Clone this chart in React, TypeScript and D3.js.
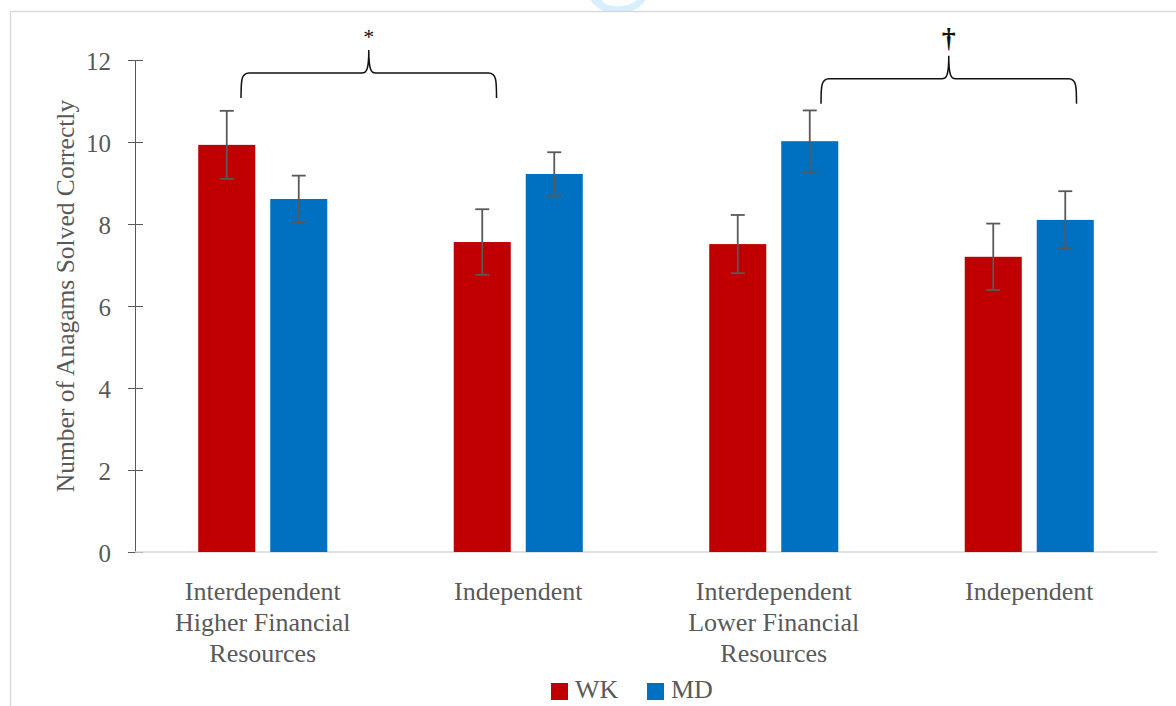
import React, { useEffect, useRef } from "react";
import * as d3 from "d3";

const categories = [
  ["Interdependent", "Higher Financial", "Resources"],
  ["Independent"],
  ["Interdependent", "Lower Financial", "Resources"],
  ["Independent"],
];
const series = ["WK", "MD"];
const colors = ["#C00000", "#0070C0"];
const wkValues = [9.93, 7.56, 7.51, 7.2];
const mdValues = [8.61, 9.22, 10.02, 8.1];
const wkErrors = [0.83, 0.8, 0.71, 0.81];
const mdErrors = [0.57, 0.53, 0.75, 0.7];
const yTicks = [0, 2, 4, 6, 8, 10, 12];
const braceFrom = [0.415, 2.685];
const braceTo = [1.415, 3.685];
const braceLevel = [11.68, 11.54];
const braceMarks = ["*", "†"];

const FONT = "'Liberation Serif', 'Times New Roman', serif";
const GREY = "#595959";

const App = () => {
  const ref = useRef<SVGSVGElement>(null);

  useEffect(() => {
    const svg = d3.select(ref.current);
    svg.selectAll("*").remove();
    const width = 1176;
    const height = 706;
    const left = 135;
    const right = 1157;
    const top = 60;
    const bottom = 552;

    // frame and watermark
    const defs = svg.append("defs");
    defs
      .append("clipPath")
      .attr("id", "wm")
      .append("rect")
      .attr("x", 0)
      .attr("y", 0)
      .attr("width", width)
      .attr("height", 11);
    const wm = svg.append("g").attr("clip-path", "url(#wm)");
    wm.append("ellipse")
      .attr("cx", 618)
      .attr("cy", -8)
      .attr("rx", 26)
      .attr("ry", 18)
      .attr("fill", "none")
      .attr("stroke", "#d6effb")
      .attr("stroke-width", 7);
    wm.append("line")
      .attr("x1", 592)
      .attr("y1", -6)
      .attr("x2", 608)
      .attr("y2", 12)
      .attr("stroke", "#d6effb")
      .attr("stroke-width", 6);

    svg
      .append("path")
      .attr("d", `M10.5,${height} L10.5,11.5 L${width},11.5`)
      .attr("fill", "none")
      .attr("stroke", "#d9d9d9")
      .attr("stroke-width", 1.5);

    const x0 = d3
      .scaleBand<number>()
      .domain(d3.range(categories.length))
      .range([left, right])
      .padding(0);
    const x1 = d3
      .scaleBand<string>()
      .domain(series)
      .range([0, x0.bandwidth()])
      .paddingInner(0.208)
      .paddingOuter(0.878);
    const xPos = d3.scaleLinear().domain([0, categories.length]).range([left, right]);
    const y = d3.scaleLinear().domain([0, 12]).range([bottom, top]);

    // y axis
    const yAxis = svg
      .append("g")
      .attr("transform", `translate(${left},0)`)
      .call(
        d3
          .axisLeft(y)
          .tickValues(yTicks)
          .tickSizeInner(7)
          .tickSizeOuter(0)
          .tickPadding(17)
      );
    yAxis.select(".domain").attr("stroke", GREY).attr("stroke-width", 1);
    yAxis
      .selectAll(".tick line")
      .attr("stroke", GREY)
      .attr("x1", -7)
      .attr("x2", 8);
    yAxis
      .selectAll(".tick text")
      .attr("fill", GREY)
      .attr("dy", "0.38em")
      .style("font-family", FONT)
      .style("font-size", "25px");

    svg
      .append("text")
      .attr("transform", `translate(65,296) rotate(-90)`)
      .attr("text-anchor", "middle")
      .attr("dominant-baseline", "central")
      .attr("fill", GREY)
      .style("font-family", FONT)
      .style("font-size", "25.5px")
      .text("Number of Anagams Solved Correctly");

    // baseline
    svg
      .append("line")
      .attr("x1", left)
      .attr("x2", right)
      .attr("y1", y(0))
      .attr("y2", y(0))
      .attr("stroke", "#d9d9d9")
      .attr("stroke-width", 1.5);

    const rows = d3.range(categories.length).flatMap((i) => [
      { i, s: "WK", v: wkValues[i], e: wkErrors[i], c: colors[0] },
      { i, s: "MD", v: mdValues[i], e: mdErrors[i], c: colors[1] },
    ]);

    // bars
    svg
      .append("g")
      .selectAll("rect")
      .data(rows)
      .enter()
      .append("rect")
      .attr("x", (d) => x0(d.i)! + x1(d.s)!)
      .attr("y", (d) => y(d.v))
      .attr("width", x1.bandwidth())
      .attr("height", (d) => y(0) - y(d.v))
      .attr("fill", (d) => d.c);

    // error bars
    const eb = svg
      .append("g")
      .attr("stroke", GREY)
      .attr("stroke-width", 1.8)
      .selectAll("g")
      .data(rows)
      .enter()
      .append("g");
    const cx = (d: any) => x0(d.i)! + x1(d.s)! + x1.bandwidth() / 2;
    eb.append("line")
      .attr("x1", cx)
      .attr("x2", cx)
      .attr("y1", (d) => y(d.v + d.e))
      .attr("y2", (d) => y(d.v - d.e));
    [1, -1].forEach((sgn) => {
      eb.append("line")
        .attr("x1", (d) => cx(d) - 7)
        .attr("x2", (d) => cx(d) + 7)
        .attr("y1", (d) => y(d.v + sgn * d.e))
        .attr("y2", (d) => y(d.v + sgn * d.e));
    });

    // category labels
    const lab = svg
      .append("g")
      .selectAll("text")
      .data(categories)
      .enter()
      .append("text")
      .attr("text-anchor", "middle")
      .attr("fill", GREY)
      .style("font-family", FONT)
      .style("font-size", "26px");
    lab
      .selectAll("tspan")
      .data((d, i) => d.map((t) => ({ t, i })))
      .enter()
      .append("tspan")
      .attr("x", (d) => x0(d.i)! + x0.bandwidth() / 2)
      .attr("y", (_d, k) => 600 + k * 31)
      .text((d) => d.t);

    // braces
    braceFrom.forEach((f, k) => {
      const a = xPos(f);
      const b = xPos(braceTo[k]);
      const m = (a + b) / 2;
      const h = y(braceLevel[k]);
      const yb = h + 25;
      const yp = h - 23;
      const d = [
        `M${a},${yb}`,
        `C${a},${h + 8} ${a},${h} ${a + 8},${h}`,
        `L${m - 7},${h}`,
        `C${m - 2},${h} ${m},${h - 4} ${m},${yp}`,
        `C${m},${h - 4} ${m + 2},${h} ${m + 7},${h}`,
        `L${b - 8},${h}`,
        `C${b},${h} ${b},${h + 8} ${b},${yb}`,
      ].join(" ");
      svg
        .append("path")
        .attr("d", d)
        .attr("fill", "none")
        .attr("stroke", "#111")
        .attr("stroke-width", 1.5);
      svg
        .append("text")
        .attr("x", m)
        .attr("y", k === 0 ? yp - 6 : yp - 9)
        .attr("text-anchor", "middle")
        .attr("fill", "#111")
        .style("font-family", FONT)
        .style("font-size", k === 0 ? "22px" : "28px")
        .style("font-weight", k === 0 ? "normal" : "bold")
        .text(braceMarks[k]);
    });

    // legend
    const lg = svg
      .append("g")
      .selectAll("g")
      .data(series)
      .enter()
      .append("g")
      .attr("transform", (_d, i) => `translate(${551 + i * 96},683)`);
    lg.append("rect")
      .attr("width", 17)
      .attr("height", 17)
      .attr("fill", (_d, i) => colors[i]);
    lg.append("text")
      .attr("x", 24)
      .attr("y", 15)
      .attr("fill", GREY)
      .style("font-family", FONT)
      .style("font-size", "26px")
      .text((d) => d);
  }, []);

  return (
    <svg
      ref={ref}
      width={1176}
      height={706}
      style={{ position: "absolute", left: 0, top: 0, display: "block", background: "#fff" }}
    ></svg>
  );
};

export default App;
